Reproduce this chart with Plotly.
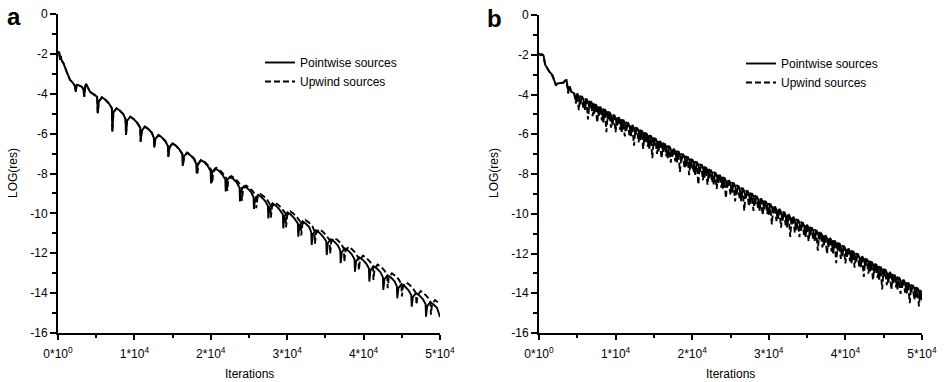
import plotly.graph_objects as go

# ---------------- Panel a data ----------------
iters_a_pointwise = [
    0, 150, 260, 350, 500, 700, 1140, 1570, 2000, 2200, 2320, 2450, 2620, 3100, 3300, 3440, 3560, 3660, 4190, 4840, 5120,
    5200, 5350, 5750, 6200, 6650, 7050,
    7110, 7260, 7660, 8110, 8560, 8840,
    8900, 9050, 9450, 9900, 10350, 10760,
    10820, 10970, 11370, 11820, 12270, 12540,
    12600, 12750, 13150, 13600, 14050, 14380,
    14440, 14590, 14990, 15440, 15890, 16260,
    16320, 16470, 16870, 17320, 17770, 18090,
    18150, 18300, 18700, 19150, 19600, 19970,
    20030, 20180, 20580, 21030, 21480, 21890,
    21950, 22100, 22500, 22950, 23400, 23760,
    23820, 23970, 24370, 24820, 25270, 25590,
    25650, 25800, 26200, 26650, 27100, 27470,
    27530, 27680, 28080, 28530, 28980, 29430,
    29490, 29640, 30040, 30490, 30940, 31390,
    31450, 31600, 32000, 32450, 32900, 33150,
    33210, 33360, 33760, 34210, 34660, 35110,
    35170, 35320, 35720, 36170, 36620, 36940,
    37000, 37150, 37550, 38000, 38450, 38810,
    38870, 39020, 39420, 39870, 40320, 40690,
    40750, 40900, 41300, 41750, 42200, 42520,
    42580, 42730, 43130, 43580, 44030, 44350,
    44410, 44560, 44960, 45410, 45860, 46240,
    46300, 46450, 46850, 47300, 47750, 48110,
    48170, 48320, 48720, 49170, 49620, 50000,
]
log_res_a_pointwise = [
    -1.95, -1.90, -2.30, -2.10, -2.35, -2.45, -2.90, -3.30, -3.48, -3.60, -3.90, -3.55, -3.56, -3.65, -3.75, -4.15, -3.60, -3.50, -3.90, -4.06, -4.15,
    -4.98, -4.38, -4.18, -4.30, -4.48, -4.73,
    -5.90, -4.93, -4.73, -4.85, -5.03, -5.28,
    -6.07, -5.35, -5.15, -5.27, -5.45, -5.70,
    -6.40, -5.85, -5.65, -5.77, -5.95, -6.20,
    -6.70, -6.27, -6.07, -6.19, -6.37, -6.62,
    -7.16, -6.69, -6.49, -6.61, -6.79, -7.04,
    -7.62, -7.16, -6.96, -7.08, -7.26, -7.51,
    -8.00, -7.52, -7.32, -7.44, -7.62, -7.87,
    -8.50, -7.94, -7.74, -7.86, -8.04, -8.29,
    -8.90, -8.36, -8.16, -8.28, -8.46, -8.71,
    -9.40, -8.83, -8.63, -8.75, -8.93, -9.18,
    -9.78, -9.27, -9.07, -9.19, -9.37, -9.62,
    -10.25, -9.70, -9.50, -9.62, -9.80, -10.05,
    -10.75, -10.15, -9.95, -10.07, -10.25, -10.50,
    -11.17, -10.60, -10.40, -10.52, -10.70, -10.95,
    -11.58, -11.05, -10.85, -10.97, -11.15, -11.40,
    -12.09, -11.50, -11.30, -11.42, -11.60, -11.85,
    -12.50, -11.95, -11.75, -11.87, -12.05, -12.30,
    -12.92, -12.40, -12.20, -12.32, -12.50, -12.75,
    -13.42, -12.85, -12.65, -12.77, -12.95, -13.20,
    -13.84, -13.30, -13.10, -13.22, -13.40, -13.65,
    -14.26, -13.75, -13.55, -13.67, -13.85, -14.10,
    -14.68, -14.20, -14.00, -14.12, -14.30, -14.55,
    -15.18, -14.65, -14.45, -14.57, -14.75, -15.20,
]

iters_a_upwind = [
    0, 150, 260, 350, 500, 700, 1140, 1570, 2000, 2200, 2320, 2450, 2620, 3100, 3300, 3440, 3560, 3660, 4190, 4840, 5120,
    5200, 5350, 5750, 6200, 6650, 7050,
    7110, 7260, 7660, 8110, 8560, 8840,
    8900, 9050, 9450, 9900, 10350, 10760,
    10820, 10970, 11370, 11820, 12270, 12540,
    12600, 12750, 13150, 13600, 14050, 14380,
    14440, 14590, 14990, 15440, 15890, 16310,
    16370, 16520, 16920, 17370, 17820, 18190,
    18250, 18400, 18800, 19250, 19700, 20120,
    20180, 20330, 20730, 21180, 21630, 22090,
    22150, 22300, 22700, 23150, 23600, 24010,
    24070, 24220, 24620, 25070, 25520, 25890,
    25950, 26100, 26500, 26950, 27400, 27800,
    27860, 28010, 28410, 28860, 29310, 29790,
    29850, 30000, 30400, 30850, 31300, 31780,
    31840, 31990, 32390, 32840, 33290, 33570,
    33630, 33780, 34180, 34630, 35080, 35560,
    35620, 35770, 36170, 36620, 37070, 37420,
    37480, 37630, 38030, 38480, 38930, 39320,
    39380, 39530, 39930, 40380, 40830, 41230,
    41290, 41440, 41840, 42290, 42740, 43090,
    43150, 43300, 43700, 44150, 44600, 44950,
    45010, 45160, 45560, 46010, 46460, 46860,
    46920, 47070, 47470, 47920, 48370, 48750,
    48810, 48960, 49360, 49810, 50000,
]
log_res_a_upwind = [
    -1.95, -1.90, -2.30, -2.10, -2.35, -2.45, -2.90, -3.30, -3.48, -3.60, -3.90, -3.55, -3.56, -3.65, -3.75, -4.15, -3.60, -3.50, -3.90, -4.06, -4.15,
    -4.98, -4.38, -4.18, -4.30, -4.48, -4.73,
    -5.90, -4.93, -4.73, -4.85, -5.03, -5.28,
    -6.07, -5.35, -5.15, -5.27, -5.45, -5.70,
    -6.40, -5.85, -5.65, -5.77, -5.95, -6.20,
    -6.70, -6.27, -6.07, -6.19, -6.37, -6.62,
    -7.16, -6.69, -6.49, -6.61, -6.79, -7.04,
    -7.61, -7.15, -6.95, -7.07, -7.25, -7.50,
    -7.99, -7.51, -7.31, -7.43, -7.61, -7.86,
    -8.48, -7.92, -7.72, -7.84, -8.02, -8.27,
    -8.87, -8.33, -8.13, -8.25, -8.43, -8.68,
    -9.37, -8.80, -8.60, -8.72, -8.90, -9.15,
    -9.74, -9.23, -9.03, -9.15, -9.33, -9.58,
    -10.21, -9.66, -9.46, -9.58, -9.76, -10.01,
    -10.70, -10.10, -9.90, -10.02, -10.20, -10.45,
    -11.11, -10.54, -10.34, -10.46, -10.64, -10.89,
    -11.52, -10.99, -10.79, -10.91, -11.09, -11.34,
    -12.02, -11.43, -11.23, -11.35, -11.53, -11.78,
    -12.43, -11.88, -11.68, -11.80, -11.98, -12.23,
    -12.84, -12.32, -12.12, -12.24, -12.42, -12.67,
    -13.34, -12.77, -12.57, -12.69, -12.87, -13.12,
    -13.75, -13.21, -13.01, -13.13, -13.31, -13.56,
    -14.17, -13.66, -13.46, -13.58, -13.76, -14.01,
    -14.58, -14.10, -13.90, -14.02, -14.20, -14.45,
    -15.08, -14.55, -14.35, -14.47, -14.55,
]

# ---------------- Panel b data (samples every 200 iterations) ----------------
iters_b = list(range(0, 50001, 200))
log_res_b_pointwise = [
    -1.93, -2.02, -1.98, -2.05, -2.50, -2.65, -2.80, -2.88, -2.95, -3.05, -3.30, -3.50, -3.45,
    -3.42, -3.42, -3.42, -3.40, -3.30, -3.27, -3.80, -3.60, -3.85, -3.90, -3.95, -4.30,
    -3.95, -4.11, -4.49, -4.08, -4.25, -4.77, -4.21, -4.38, -4.70, -4.35, -4.51, -4.98,
    -4.48, -4.64, -5.07, -4.61, -4.77, -5.40, -4.74, -4.91, -5.25, -4.87, -5.04, -5.54,
    -5.01, -5.17, -5.57, -5.14, -5.30, -5.88, -5.27, -5.43, -5.81, -5.40, -5.57, -6.09,
    -5.53, -5.70, -6.02, -5.67, -5.83, -6.30, -5.80, -5.96, -6.39, -5.93, -6.09, -6.72,
    -6.06, -6.23, -6.57, -6.19, -6.36, -6.86, -6.33, -6.49, -6.89, -6.46, -6.62, -7.20,
    -6.59, -6.75, -7.13, -6.72, -6.89, -7.41, -6.85, -7.02, -7.34, -6.99, -7.15, -7.62,
    -7.12, -7.28, -7.71, -7.25, -7.41, -8.04, -7.38, -7.55, -7.89, -7.51, -7.68, -8.18,
    -7.65, -7.81, -8.21, -7.78, -7.94, -8.52, -7.91, -8.07, -8.45, -8.04, -8.21, -8.73,
    -8.17, -8.34, -8.66, -8.31, -8.47, -8.94, -8.44, -8.60, -9.03, -8.57, -8.73, -9.36,
    -8.70, -8.87, -9.21, -8.83, -9.00, -9.50, -8.97, -9.13, -9.53, -9.10, -9.26, -9.84,
    -9.23, -9.39, -9.77, -9.36, -9.53, -10.05, -9.49, -9.66, -9.98, -9.63, -9.79, -10.26,
    -9.76, -9.92, -10.35, -9.89, -10.05, -10.68, -10.02, -10.19, -10.53, -10.15, -10.32, -10.82,
    -10.29, -10.45, -10.85, -10.42, -10.58, -11.16, -10.55, -10.71, -11.09, -10.68, -10.85, -11.37,
    -10.81, -10.98, -11.30, -10.95, -11.11, -11.58, -11.08, -11.24, -11.67, -11.21, -11.37, -12.00,
    -11.34, -11.51, -11.85, -11.47, -11.64, -12.14, -11.61, -11.77, -12.17, -11.74, -11.90, -12.48,
    -11.87, -12.03, -12.41, -12.00, -12.17, -12.69, -12.13, -12.30, -12.62, -12.27, -12.43, -12.90,
    -12.40, -12.56, -12.99, -12.53, -12.69, -13.32, -12.66, -12.83, -13.17, -12.79, -12.96, -13.46,
    -12.93, -13.09, -13.49, -13.06, -13.22, -13.80, -13.19, -13.35, -13.73, -13.32, -13.49, -14.01,
    -13.45, -13.62, -13.94, -13.59, -13.75, -14.22, -13.72, -13.88, -14.31,
    -13.90,
]
log_res_b_upwind = [
    -1.93, -2.02, -1.98, -2.05, -2.50, -2.65, -2.80, -2.88, -2.95, -3.10, -3.30, -3.55, -3.45,
    -3.42, -3.42, -3.42, -3.40, -3.30, -3.27, -3.95, -3.60, -3.85, -3.90, -3.95, -4.45,
    -4.07, -4.79, -4.06, -4.20, -4.73, -4.19, -4.33, -5.26, -4.32, -4.47, -5.09, -4.45,
    -4.60, -5.42, -4.59, -4.73, -5.30, -4.72, -4.86, -5.89, -4.85, -4.99, -5.67, -4.98,
    -5.13, -5.90, -5.11, -5.26, -5.78, -5.25, -5.39, -6.11, -5.38, -5.52, -6.05, -5.51,
    -5.65, -6.58, -5.64, -5.79, -6.41, -5.77, -5.92, -6.74, -5.91, -6.05, -6.62, -6.04,
    -6.18, -7.21, -6.17, -6.31, -6.99, -6.30, -6.45, -7.22, -6.43, -6.58, -7.10, -6.57,
    -6.71, -7.43, -6.70, -6.84, -7.37, -6.83, -6.97, -7.90, -6.96, -7.11, -7.73, -7.09,
    -7.24, -8.06, -7.23, -7.37, -7.94, -7.36, -7.50, -8.53, -7.49, -7.63, -8.31, -7.62,
    -7.77, -8.54, -7.75, -7.90, -8.42, -7.89, -8.03, -8.75, -8.02, -8.16, -8.69, -8.15,
    -8.29, -9.22, -8.28, -8.43, -9.05, -8.41, -8.56, -9.38, -8.55, -8.69, -9.26, -8.68,
    -8.82, -9.85, -8.81, -8.95, -9.63, -8.94, -9.09, -9.86, -9.07, -9.22, -9.74, -9.21,
    -9.35, -10.07, -9.34, -9.48, -10.01, -9.47, -9.61, -10.54, -9.60, -9.75, -10.37, -9.73,
    -9.88, -10.70, -9.87, -10.01, -10.58, -10.00, -10.14, -11.17, -10.13, -10.27, -10.95, -10.26,
    -10.41, -11.18, -10.39, -10.54, -11.06, -10.53, -10.67, -11.39, -10.66, -10.80, -11.33, -10.79,
    -10.93, -11.86, -10.92, -11.07, -11.69, -11.05, -11.20, -12.02, -11.19, -11.33, -11.90, -11.32,
    -11.46, -12.49, -11.45, -11.59, -12.27, -11.58, -11.73, -12.50, -11.71, -11.86, -12.38, -11.85,
    -11.99, -12.71, -11.98, -12.12, -12.65, -12.11, -12.25, -13.18, -12.24, -12.39, -13.01, -12.37,
    -12.52, -13.34, -12.51, -12.65, -13.22, -12.64, -12.78, -13.81, -12.77, -12.91, -13.59, -12.90,
    -13.05, -13.82, -13.03, -13.18, -13.70, -13.17, -13.31, -14.03, -13.30, -13.44, -13.97, -13.43,
    -13.57, -14.50, -13.56, -13.71, -14.33, -13.69, -13.84, -14.66, -13.83,
    -14.35,
]

# ---------------- Axis labels ----------------
x_tick_vals = [0, 10000, 20000, 30000, 40000, 50000]
x_tick_text = ["0*10<sup>0</sup>", "1*10<sup>4</sup>", "2*10<sup>4</sup>",
               "3*10<sup>4</sup>", "4*10<sup>4</sup>", "5*10<sup>4</sup>"]
x_minor_vals = [5000, 15000, 25000, 35000, 45000]
y_tick_vals = [0, -2, -4, -6, -8, -10, -12, -14, -16]
y_tick_text = ["0", "-2", "-4", "-6", "-8", "-10", "-12", "-14", "-16"]
y_minor_vals = [-1, -3, -5, -7, -9, -11, -13, -15]
series_names = ["Pointwise sources", "Upwind sources"]

W, H = 945, 382
FONT = "Liberation Sans, Arial, Helvetica, sans-serif"

def px_x(p):
    return p / W

def px_y(p):
    return 1 - p / H

fig = go.Figure()
line_solid = dict(color="black", width=1.9)
line_dash = dict(color="black", width=1.9, dash="6px,3px")

fig.add_trace(go.Scatter(x=iters_a_pointwise, y=log_res_a_pointwise, mode="lines",
                         name=series_names[0], line=line_solid, xaxis="x", yaxis="y", legend="legend"))
fig.add_trace(go.Scatter(x=iters_a_upwind, y=log_res_a_upwind, mode="lines",
                         name=series_names[1], line=line_dash, xaxis="x", yaxis="y", legend="legend"))
fig.add_trace(go.Scatter(x=iters_b, y=log_res_b_pointwise, mode="lines",
                         name=series_names[0], line=line_solid, xaxis="x2", yaxis="y2", legend="legend2"))
fig.add_trace(go.Scatter(x=iters_b, y=log_res_b_upwind, mode="lines",
                         name=series_names[1], line=line_dash, xaxis="x2", yaxis="y2", legend="legend2"))

def xaxis_cfg(domain, anchor):
    return dict(domain=domain, anchor=anchor, range=[0, 50000], showline=True, linecolor="black",
                linewidth=2, ticks="outside", ticklen=5, tickwidth=1.5, tickcolor="black",
                tickvals=x_tick_vals, ticktext=x_tick_text, showgrid=False, zeroline=False,
                automargin=False, ticklabelstandoff=4,
                tickfont=dict(size=12, color="black", family=FONT),
                minor=dict(tickvals=x_minor_vals, ticks="outside", ticklen=3, tickwidth=1.5,
                           tickcolor="black", showgrid=False))

def yaxis_cfg(domain, anchor):
    return dict(domain=domain, anchor=anchor, range=[-16, 0], showline=True, linecolor="black",
                linewidth=2, ticks="outside", ticklen=6, tickwidth=1.5, tickcolor="black",
                tickvals=y_tick_vals, ticktext=y_tick_text, showgrid=False, zeroline=False,
                automargin=False,
                tickfont=dict(size=12, color="black", family=FONT),
                minor=dict(tickvals=y_minor_vals, ticks="outside", ticklen=4, tickwidth=1.5,
                           tickcolor="black", showgrid=False))

legend_common = dict(xanchor="left", yanchor="top", bgcolor="rgba(0,0,0,0)", borderwidth=0,
                     font=dict(size=12, color="black", family=FONT), tracegroupgap=0)

def label(text, x, y, size=12, angle=0):
    return dict(text=text, x=px_x(x), y=px_y(y), xref="paper", yref="paper",
                xanchor="center", yanchor="middle", textangle=angle, showarrow=False,
                font=dict(size=size, family=FONT, color="black"))

fig.update_layout(
    width=W, height=H, margin=dict(l=0, r=0, t=0, b=0, autoexpand=False),
    paper_bgcolor="white", plot_bgcolor="white",
    font=dict(family=FONT, size=12, color="black"),
    showlegend=True,
    xaxis=xaxis_cfg([px_x(58), px_x(440)], "y"),
    yaxis=yaxis_cfg([px_y(333), px_y(14)], "x"),
    xaxis2=xaxis_cfg([px_x(539), px_x(922)], "y2"),
    yaxis2=yaxis_cfg([px_y(333), px_y(15)], "x2"),
    legend=dict(x=px_x(260), y=px_y(48), **legend_common),
    legend2=dict(x=px_x(741), y=px_y(49), **legend_common),
    annotations=[
        label("<b>a</b>", 13.5, 16, size=24),
        label("<b>b</b>", 494.5, 19, size=24),
        label("LOG(res)", 13, 173, angle=-90),
        label("LOG(res)", 494, 173, angle=-90),
        label("Iterations", 249, 374),
        label("Iterations", 730, 374),
    ],
)

fig.write_html("out.html")
